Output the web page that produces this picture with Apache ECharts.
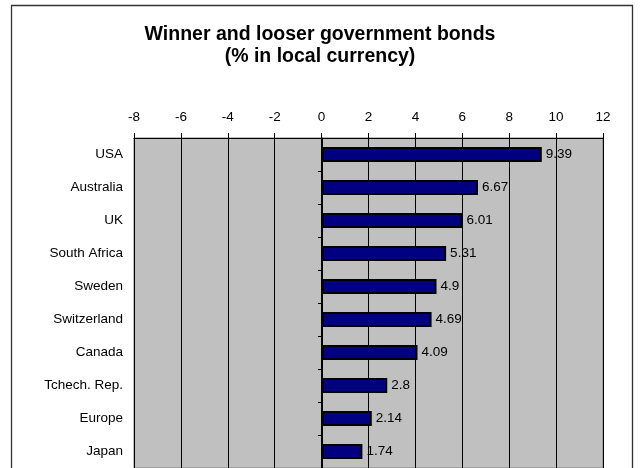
<!DOCTYPE html>
<html>
<head>
  <meta charset="utf-8">
</head>
<body style="margin: 0; background: #fff">
  <div id="container" style="width: 640px; height: 468px"></div>
  <script type="text/javascript" src="https://cdn.jsdelivr.net/npm/echarts@6/dist/echarts.min.js"></script>
  <script type="text/javascript">
    var countries = ['USA', 'Australia', 'UK', 'South Africa', 'Sweden', 'Switzerland',
      'Canada', 'Tchech. Rep.', 'Europe', 'Japan'];
    var returns = [9.39, 6.67, 6.01, 5.31, 4.9, 4.69, 4.09, 2.8, 2.14, 1.74];

    var myChart = echarts.init(document.getElementById('container'), null, { renderer: 'canvas' });
    var font = 'Arial, "Liberation Sans", sans-serif';

    var option = {
      animation: false,
      backgroundColor: '#ffffff',
      title: {
        text: 'Winner and looser government bonds\n(% in local currency)',
        left: 'center',
        top: 19,
        textStyle: { fontFamily: font, fontSize: 19.5, fontWeight: 'bold', color: '#000', lineHeight: 22 }
      },
      graphic: [{
        type: 'rect',
        shape: { x: 11.5, y: 5.5, width: 621, height: 470 },
        style: { fill: null, stroke: '#333', lineWidth: 1.3 },
        silent: true
      }],
      grid: {
        left: 134, right: 37, top: 138, bottom: -3,
        show: true, backgroundColor: '#c0c0c0', borderColor: '#808080', borderWidth: 1
      },
      xAxis: {
        type: 'value',
        position: 'top',
        min: -8, max: 12, interval: 2,
        axisLine: { show: true, onZero: false, lineStyle: { color: '#000' } },
        axisTick: { show: true, length: 5, lineStyle: { color: '#000' } },
        axisLabel: { fontFamily: font, fontSize: 13.5, color: '#000', margin: 14 },
        splitLine: { show: true, lineStyle: { color: '#000', width: 1 } }
      },
      yAxis: [{
        type: 'category',
        data: countries,
        inverse: true,
        axisLine: { show: false },
        axisTick: { show: false },
        axisLabel: { fontFamily: font, fontSize: 13.5, color: '#000', margin: 11 }
      }, {
        type: 'category',
        data: countries,
        inverse: true,
        position: 'left',
        offset: -188,
        axisLine: { show: true, lineStyle: { color: '#000' } },
        axisTick: { show: true, length: 4, lineStyle: { color: '#000' } },
        axisLabel: { show: false }
      }],
      series: [{
        type: 'bar',
        data: returns,
        barWidth: 15,
        itemStyle: { color: '#000080', borderColor: '#000', borderWidth: 2 },
        label: {
          show: true,
          position: 'right',
          distance: 4,
          fontFamily: font,
          fontSize: 13.5,
          color: '#000'
        }
      }]
    };
    myChart.setOption(option);
    window.addEventListener('resize', myChart.resize);
  </script>
</body>
</html>
